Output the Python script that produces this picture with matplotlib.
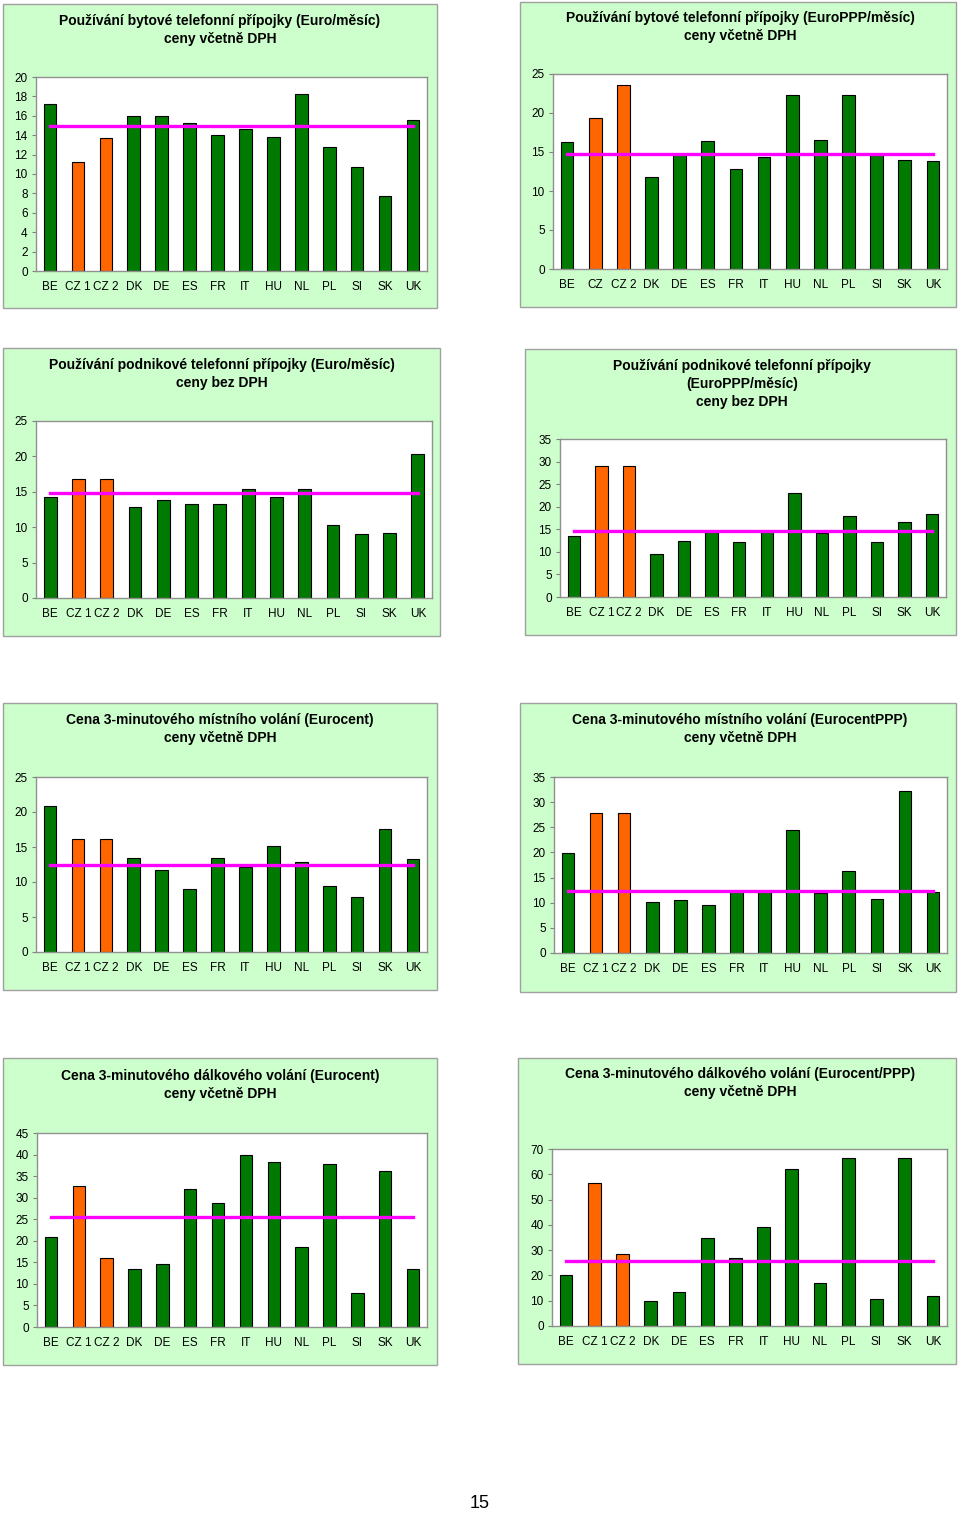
import matplotlib.pyplot as plt
from matplotlib.patches import Rectangle

plt.rcParams['font.family'] = ['Liberation Sans', 'DejaVu Sans']

# Data
zeme = ['BE', 'CZ 1', 'CZ 2', 'DK', 'DE', 'ES', 'FR', 'IT', 'HU', 'NL', 'PL', 'SI', 'SK', 'UK']
zeme_b = ['BE', 'CZ', 'CZ 2', 'DK', 'DE', 'ES', 'FR', 'IT', 'HU', 'NL', 'PL', 'SI', 'SK', 'UK']

byt_eur = [17.2, 11.2, 13.7, 16.0, 16.0, 15.3, 14.0, 14.6, 13.8, 18.2, 12.8, 10.7, 7.7, 15.6]
byt_ppp = [16.3, 19.3, 23.6, 11.8, 14.6, 16.4, 12.8, 14.3, 22.3, 16.6, 22.3, 14.6, 14.0, 13.9]
pod_eur = [14.2, 16.8, 16.8, 12.9, 13.8, 13.25, 13.25, 15.4, 14.2, 15.4, 10.3, 9.0, 9.15, 20.3]
pod_ppp = [13.5, 29.1, 29.1, 9.55, 12.5, 14.3, 12.1, 14.6, 23.0, 14.1, 17.9, 12.1, 16.6, 18.35]
mist_eur = [20.8, 16.1, 16.1, 13.5, 11.7, 9.0, 13.5, 12.2, 15.1, 12.9, 9.45, 7.9, 17.6, 13.3]
mist_ppp = [19.8, 27.9, 27.9, 10.1, 10.6, 9.6, 12.35, 12.1, 24.5, 11.9, 16.4, 10.8, 32.3, 12.1]
dal_eur = [20.9, 32.6, 16.1, 13.4, 14.6, 32.1, 28.8, 40.0, 38.2, 18.5, 37.9, 7.9, 36.2, 13.4]
dal_ppp = [20.1, 56.4, 28.3, 9.8, 13.5, 34.7, 26.7, 39.2, 62.1, 17.2, 66.4, 10.6, 66.4, 12.0]

prumery = [14.9, 14.8, 14.8, 14.7, 12.5, 12.4, 25.5, 25.6]

nadpisy = [
    'Používání bytové telefonní přípojky (Euro/měsíc)\nceny včetně DPH',
    'Používání bytové telefonní přípojky (EuroPPP/měsíc)\nceny včetně DPH',
    'Používání podnikové telefonní přípojky (Euro/měsíc)\nceny bez DPH',
    'Používání podnikové telefonní přípojky\n(EuroPPP/měsíc)\nceny bez DPH',
    'Cena 3-minutového místního volání (Eurocent)\nceny včetně DPH',
    'Cena 3-minutového místního volání (EurocentPPP)\nceny včetně DPH',
    'Cena 3-minutového dálkového volání (Eurocent)\nceny včetně DPH',
    'Cena 3-minutového dálkového volání (Eurocent/PPP)\nceny včetně DPH',
]

W, H = 960, 1513
fig = plt.figure(figsize=(W / 100, H / 100), dpi=100)
fig.patch.set_facecolor('white')

ZELENA = '#007A00'
ORANZ = '#FF6600'
FIALOVA = '#FF00FF'


def box(x0, y0, x1, y1):
    r = Rectangle((x0 / W, 1 - y1 / H), (x1 - x0) / W, (y1 - y0) / H,
                  transform=fig.transFigure, facecolor='#CCFFCC',
                  edgecolor='#A0A0A0', linewidth=1, zorder=-5)
    fig.patches.append(r)


def graf(panel, osa, nadpis, tx, ty, popisky, hodnoty, prumer, ymax, krok):
    box(*panel)
    x0, y0, x1, y1 = osa
    ax = fig.add_axes([x0 / W, 1 - y1 / H, (x1 - x0) / W, (y1 - y0) / H])
    ax.set_zorder(1)
    ax.set_facecolor('white')
    barvy = [ORANZ if i in (1, 2) else ZELENA for i in range(len(hodnoty))]
    ax.bar(range(len(hodnoty)), hodnoty, width=0.45, color=barvy,
           edgecolor='black', linewidth=0.8, zorder=2)
    ax.plot([0, len(hodnoty) - 1], [prumer, prumer], color=FIALOVA,
            linewidth=2.4, zorder=3)
    ax.set_xlim(-0.5, len(hodnoty) - 0.5)
    ax.set_ylim(0, ymax)
    ax.set_yticks(range(0, ymax + 1, krok))
    ax.set_xticks(range(len(hodnoty)))
    ax.set_xticklabels(popisky)
    ax.tick_params(axis='y', labelsize=8.5, length=3, color='#808080', pad=3)
    ax.tick_params(axis='x', labelsize=8.5, length=0, pad=7)
    for s in ax.spines.values():
        s.set_color('#909090')
        s.set_linewidth(1)
    fig.text(tx / W, 1 - ty / H, nadpis, ha='center', va='center',
             fontsize=10, fontweight='bold', linespacing=1.35, zorder=2)


graf((3, 4, 437, 308), (36, 77, 427, 271), nadpisy[0], 220, 30,
     zeme, byt_eur, prumery[0], 20, 2)
graf((520, 2, 956, 307), (553, 74, 947, 269), nadpisy[1], 740, 27,
     zeme_b, byt_ppp, prumery[1], 25, 5)
graf((3, 348, 440, 636), (36, 421, 432, 598), nadpisy[2], 222, 374,
     zeme, pod_eur, prumery[2], 25, 5)
graf((525, 349, 956, 635), (560, 439, 946, 597), nadpisy[3], 742, 384,
     zeme, pod_ppp, prumery[3], 35, 5)
graf((3, 703, 437, 990), (36, 777, 427, 952), nadpisy[4], 220, 729,
     zeme, mist_eur, prumery[4], 25, 5)
graf((520, 703, 956, 992), (554, 777, 947, 953), nadpisy[5], 740, 729,
     zeme, mist_ppp, prumery[5], 35, 5)
graf((3, 1058, 437, 1365), (37, 1133, 427, 1327), nadpisy[6], 220, 1085,
     zeme, dal_eur, prumery[6], 45, 5)
graf((518, 1058, 956, 1364), (552, 1149, 947, 1326), nadpisy[7], 740, 1083,
     zeme, dal_ppp, prumery[7], 70, 10)

fig.text(480 / W, 1 - 1503 / H, '15', ha='center', va='center', fontsize=13)

fig.savefig('out.png', dpi=100)
